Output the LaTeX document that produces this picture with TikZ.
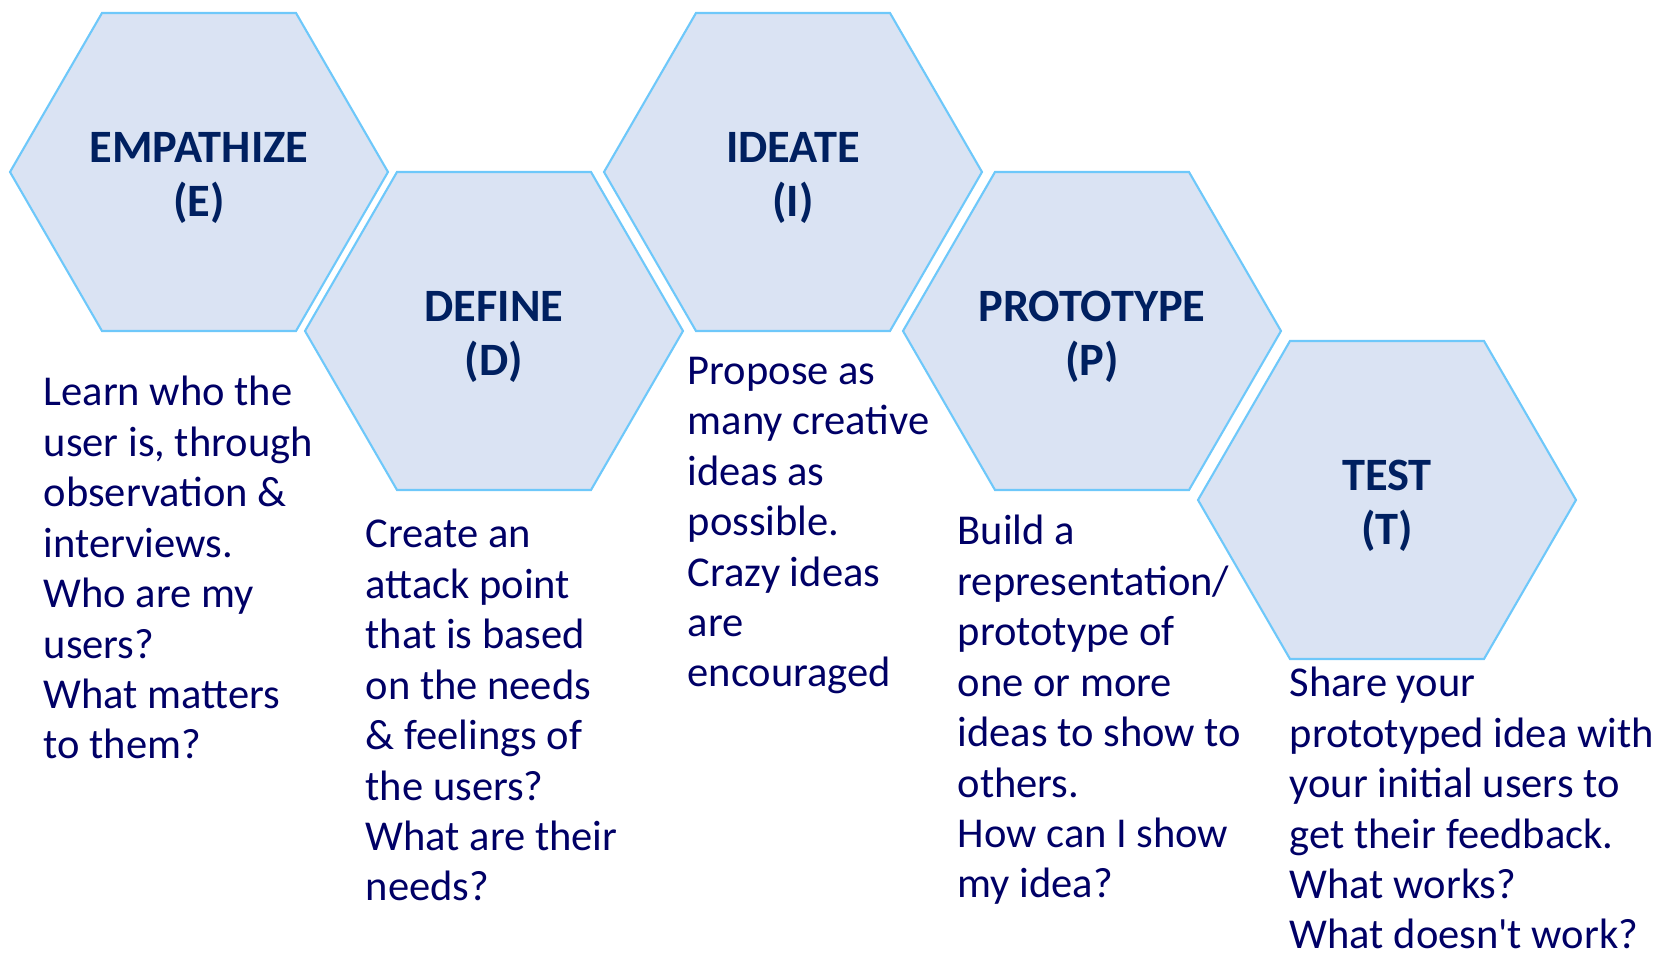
\documentclass[tikz,border=0pt]{standalone}
\usepackage{fontspec}
\setmainfont{Carlito}
\usepackage{xcolor}
\definecolor{hexfill}{RGB}{218,227,243}
\definecolor{hexline}{RGB}{110,200,250}
\definecolor{titlenavy}{RGB}{0,32,96}
\definecolor{textnavy}{RGB}{0,0,102}
\usepackage{tikz}
\usetikzlibrary{calc}

% flat-topped hexagon round a named centre
\newcommand{\hexcell}[1]{%
  \draw[hexcell] ($(#1)+(-1.89,0)$) -- ++(0.92,1.59) -- ++(1.94,0) -- ++(0.92,-1.59) -- ++(-0.92,-1.59) -- ++(-1.94,0) -- cycle;}

\begin{document}
\begin{tikzpicture}[
    hexcell/.style={draw=hexline, line width=0.6pt, fill=hexfill},
    hextitle/.style={align=center, inner sep=0pt, anchor=base, text=titlenavy, font=\fontsize{13.2}{15.4}\selectfont\bfseries},
    hexnote/.style={align=left, inner sep=0pt, anchor=base west, text=textnavy, font=\fontsize{12.1}{14.35}\selectfont}]
    \useasboundingbox (0,0) rectangle (16.53,9.58);
    % hexagon centres
    \coordinate (empathize) at (1.99,7.86);
    \coordinate (define) at (4.94,6.27);
    \coordinate (ideate) at (7.93,7.86);
    \coordinate (prototype) at (10.92,6.27);
    \coordinate (test) at (13.87,4.58);
    \foreach \c in {empathize,define,ideate,prototype,test} {\hexcell{\c}}
    % stage titles (anchored on the last line)
    \node[hextitle] (empathize-title) at ($(empathize)+(0,-0.45)$) {EMPATHIZE\\(E)};
    \node[hextitle] (define-title) at ($(define)+(0,-0.45)$) {DEFINE\\(D)};
    \node[hextitle] (ideate-title) at ($(ideate)+(0,-0.45)$) {IDEATE\\(I)};
    \node[hextitle] (prototype-title) at ($(prototype)+(0,-0.45)$) {PROTOTYPE\\(P)};
    \node[hextitle] (test-title) at ($(test)+(0,-0.45)$) {TEST\\(T)};
    % notes under each stage (anchored on the last line)
    \node[hexnote] (empathize-note) at (0.43,1.99) {Learn who the\\user is, through\\observation \&\\interviews.\\Who are my\\users?\\What matters\\to them?};
    \node[hexnote] (define-note) at (3.65,0.57) {Create an\\attack point\\that is based\\on the needs\\\& feelings of\\the users?\\What are their\\needs?};
    \node[hexnote] (ideate-note) at (6.87,2.71) {Propose as\\many creative\\ideas as\\possible.\\Crazy ideas\\are\\encouraged};
    \node[hexnote] (prototype-note) at (9.57,0.60) {Build a\\representation/\\prototype of\\one or more\\ideas to show to\\others.\\How can I show\\my idea?};
    \node[hexnote] (test-note) at (12.89,0.09) {Share your\\prototyped idea with\\your initial users to\\get their feedback.\\What works?\\What doesn\textquotesingle t work?};
\end{tikzpicture}
\end{document}
